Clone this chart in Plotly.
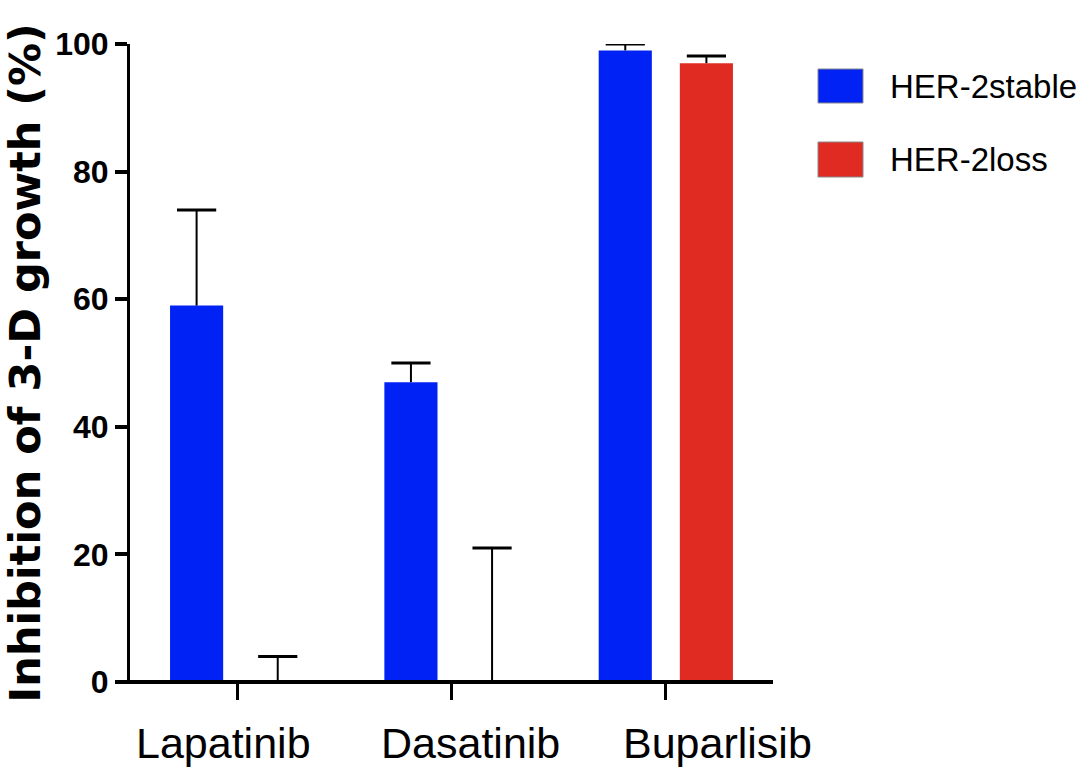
import plotly.graph_objects as go

categories = ["Lapatinib", "Dasatinib", "Buparlisib"]
series_names = ["HER-2stable", "HER-2loss"]
stable_values = [59, 47, 99]
stable_err = [15, 3, 1]
loss_values = [0, 0, 97]
loss_err = [4, 21, 1.1]
y_ticks = [0, 20, 40, 60, 80, 100]

colors = ["#0022F5", "#E02B22"]
label_shift_px = [-14, 19, 52]   # GraphPad-style label placement

series = [
    (series_names[0], stable_values, stable_err, colors[0]),
    (series_names[1], loss_values, loss_err, colors[1]),
]

fig = go.Figure()
for name, vals, errs, col in series:
    fig.add_trace(go.Bar(
        x=categories, y=vals, name=name, offsetgroup=name,
        marker=dict(color=col, line=dict(width=0)),
        showlegend=False,
    ))
# one-sided (upper) error bars: line from bar top to cap, cap as a marker
for name, vals, errs, col in series:
    tops = [v + e for v, e in zip(vals, errs)]
    fig.add_trace(go.Scatter(
        x=categories, y=tops, name=name + " SEM", mode="markers",
        orientation="v", offsetgroup=name,
        marker=dict(symbol="line-ew", size=28, color="black",
                    line=dict(color="black", width=3)),
        error_y=dict(type="data", symmetric=False, array=[0] * len(errs),
                     arrayminus=errs, color="black", thickness=2, width=0),
        showlegend=False, hoverinfo="skip",
    ))

L, R, T, B = 130, 311, 44, 87
W, H = 1084, 769
pw = W - L - R
ph = H - T - B

fig.update_layout(
    width=W, height=H,
    margin=dict(l=L, r=R, t=T, b=B, pad=0),
    paper_bgcolor="white", plot_bgcolor="white",
    barmode="group", bargap=0.243, bargroupgap=0.345,
    scattermode="group", scattergap=0.243,
    showlegend=False,
    xaxis=dict(
        range=[-0.5, 2.5], showgrid=False, zeroline=False, automargin=False,
        showline=False, ticks="outside", ticklen=17, tickwidth=3,
        tickcolor="black", showticklabels=False,
    ),
    yaxis=dict(
        range=[0, 100], tickvals=y_ticks, showgrid=False, zeroline=False,
        automargin=False,
        showline=True, linewidth=3, linecolor="black",
        ticks="outside", ticklen=12, tickwidth=4, tickcolor="black",
        tickfont=dict(family="Liberation Sans, Arial",
                      size=32, color="black", weight="bold"),
        title=dict(text="Inhibition of 3-D growth (%)",
                   font=dict(family="DejaVu Sans", size=43, color="black",
                             weight="bold"),
                   standoff=18),
    ),
)

# extended x-axis baseline (GraphPad style)
fig.add_shape(type="line", xref="paper", yref="paper",
              x0=-12 / pw, x1=1, y0=0, y1=0,
              line=dict(color="black", width=4))

# category labels
for cat, sh in zip(categories, label_shift_px):
    fig.add_annotation(text=cat, x=cat, xref="x", yref="paper",
                       y=-(743 - (H - B)) / ph, xshift=sh,
                       xanchor="center", yanchor="middle", showarrow=False,
                       font=dict(family="Liberation Sans, Arial", size=43,
                                 color="black"))

# manual legend with large swatches
leg_items = [(series_names[0], colors[0], 69, 103),
             (series_names[1], colors[1], 142, 177)]
for name, col, ytop, ybot in leg_items:
    fig.add_shape(type="rect", xref="paper", yref="paper",
                  x0=(818 - L) / pw, x1=(863 - L) / pw,
                  y0=1 - (ybot - T) / ph, y1=1 - (ytop - T) / ph,
                  fillcolor=col, line=dict(color="#888888", width=1))
    fig.add_annotation(text=name, xref="paper", yref="paper",
                       x=(888 - L) / pw, y=1 - ((ytop + ybot) / 2 - T) / ph,
                       xanchor="left", yanchor="middle", showarrow=False,
                       font=dict(family="Liberation Sans, Arial",
                                 size=33, color="black"))

fig.write_html("out.html")
